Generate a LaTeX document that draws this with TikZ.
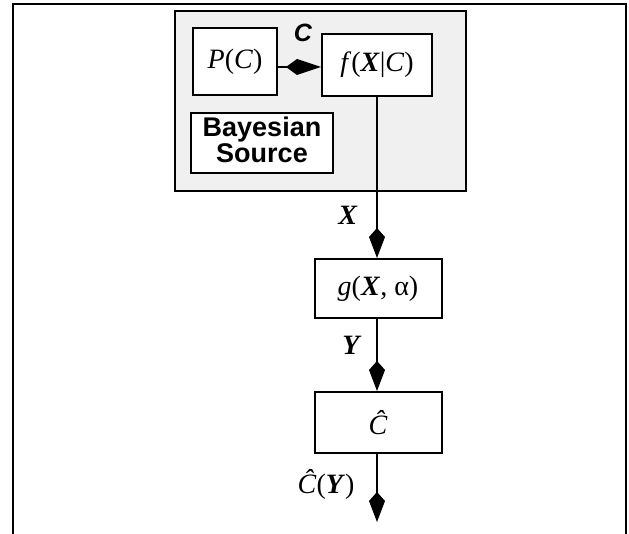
\documentclass[tikz,border=0pt]{standalone}
\usepackage{fontspec}
\setmainfont{Liberation Serif}
\newfontfamily\arialf{Liberation Sans}
\usetikzlibrary{arrows.meta}
\tikzset{
  blk/.style={draw=black, line width=2pt, fill=white, rectangle, inner sep=0pt},
  conn/.style={line width=2pt, -{Kite[length=30pt,width=16pt,inset=9pt]}},
  lbl/.style={inner sep=0pt, font=\fontsize{28}{30}\selectfont},
}
\begin{document}
\begin{tikzpicture}[x=1pt,y=-1pt]
\useasboundingbox (0,0) rectangle (629,534);
\fill[white] (0,0) rectangle (629,534);
% outer frame (open at bottom)
\draw[line width=2pt] (13,534) -- (13,4) -- (626,4) -- (626,534);
% Bayesian source gray box
\node[draw=black, line width=2.5pt, fill=black!6, rectangle, inner sep=0pt,
      minimum width=291pt, minimum height=180pt] (src) at (320.5,101) {};
\node[blk, minimum width=84pt, minimum height=67pt, lbl] (pc) at (235,62) {\textit{P}(\textit{C})};
\node[blk, minimum width=110pt, minimum height=62pt, lbl] (fxc) at (377,65) {\textit{f}(\textbf{\textit{X}}|\textit{C})};
\node[blk, minimum width=142pt, minimum height=60pt] (bs) at (262,143) {};
\node[inner sep=0pt, align=center, font=\arialf\bfseries\fontsize{27}{26}\selectfont] (bst) at (262,140) {Bayesian\\Source};
\node[blk, minimum width=127pt, minimum height=59pt, lbl] (g) at (378,288.5) {\textit{g}(\textbf{\textit{X}}, α)};
\node[blk, minimum width=127pt, minimum height=61pt, lbl] (ch) at (378,422.5) {\textit{\^C}};
\coordinate (out) at (377,522);
% connectors
\draw[line width=2pt, -{Kite[length=35pt,width=16pt,inset=11pt]}] (pc.east |- 0,67) -- (fxc.west |- 0,67);
\node[inner sep=0pt, font=\arialf\bfseries\itshape\fontsize{25}{26}\selectfont] (cl) at (303,33) {C};
\draw[conn] (fxc.south -| out) -- (g.north -| out);
\node[lbl] (xl) at (348,215) {\textbf{\textit{X}}};
\draw[conn] (g.south -| out) -- (ch.north -| out);
\node[lbl] (yl) at (352,345) {\textbf{\textit{Y}}};
\draw[conn] (ch.south -| out) -- (out);
\node[lbl] (cyl) at (326,484) {\textit{\^C}(\textbf{\textit{Y}})};
\end{tikzpicture}
\end{document}
